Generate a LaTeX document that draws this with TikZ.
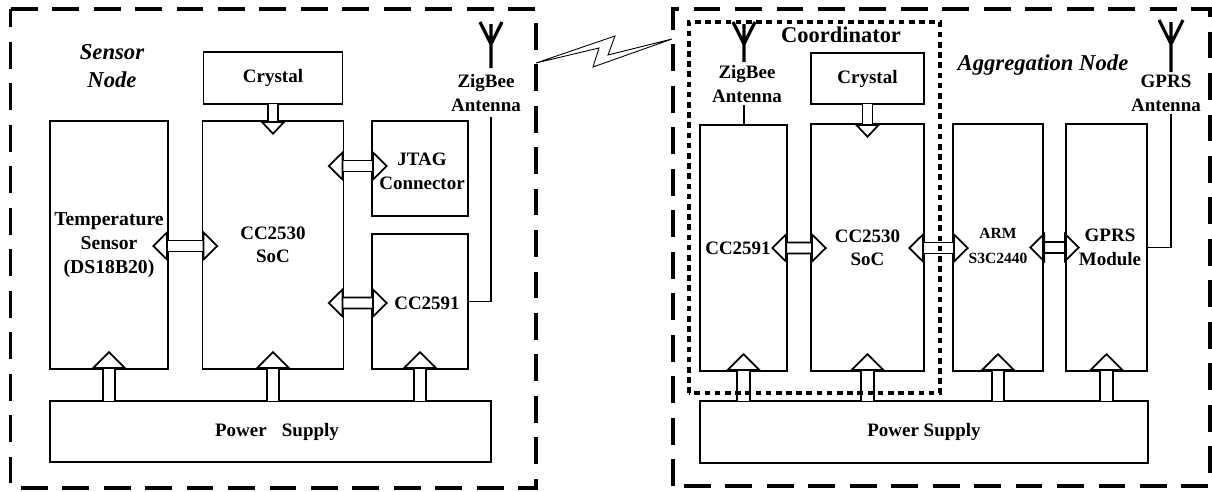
\documentclass[tikz,border=0pt]{standalone}
\usepackage{fontspec}
\setmainfont{Liberation Serif}
\usetikzlibrary{arrows.meta,calc}
\tikzset{
    blockbox/.style={draw, line width=1pt, outer sep=0pt, inner sep=0pt, align=center, font=\fontsize{10.8}{13.2}\selectfont\bfseries},
    textlabel/.style={inner sep=0pt, align=center, font=\fontsize{10.8}{13.6}\selectfont\bfseries},
    titlelabel/.style={inner sep=0pt, align=center, font=\fontsize{12.9}{15.8}\selectfont\bfseries\itshape},
    outerframe/.style={line width=2pt, dash pattern=on 15.3pt off 8.3pt},
    coordframe/.style={line width=1.8pt, dash pattern=on 3.2pt off 2.6pt},
    hbus/.style={double, line width=1pt, double distance between line centers=0.22cm, {Triangle[open, length=0.32cm, width=0.62cm]}-{Triangle[open, length=0.32cm, width=0.62cm]}},
    vbus/.style={double, line width=1pt, double distance between line centers=0.25cm, -{Triangle[open, length=0.36cm, width=0.72cm]}},
    xtalbus/.style={double, line width=1pt, double distance between line centers=0.2cm, -{Triangle[open, length=0.28cm, width=0.52cm]}},
    feedline/.style={line width=0.9pt},
    antennaline/.style={line width=1.8pt}
}
\begin{document}
\begin{tikzpicture}[x=0.02cm, y=-0.02cm]
        \useasboundingbox (0, 0) rectangle (1212, 491);

        % Sensor node blocks
        \node[blockbox, minimum width=2.78cm, minimum height=1.04cm] (crystalS) at (273, 78) {Crystal};
        \node[blockbox, minimum width=2.36cm, minimum height=4.96cm, font=\fontsize{11.2}{13.2}\selectfont\bfseries] (tempS) at (109, 245) {Temperature\\[0.6pt]Sensor\\[0.6pt](DS18B20)};
        \node[blockbox, minimum width=2.82cm, minimum height=4.96cm] (socS) at (273, 245) {CC2530\\SoC};
        \node[blockbox, minimum width=1.92cm, minimum height=1.90cm] (jtagS) at (420, 168.5) {};
        \node[textlabel] (jtagStext) at (422, 171) {JTAG\\Connector};
        \node[blockbox, minimum width=1.92cm, minimum height=2.70cm] (cc2591S) at (420, 301.5) {};
        \node[textlabel] (cc2591Stext) at (427, 303) {CC2591};
        \node[blockbox, minimum width=8.82cm, minimum height=1.22cm] (powerS) at (270.5, 431.5) {};
        \node[textlabel] (powerStext) at (277, 432) {Power\hspace{0.55em} Supply};

        % Sensor node labels
        \node[titlelabel] (titleS) at (112, 66) {Sensor\\Node};
        \node[textlabel] (zigbeeS) at (486, 93) {ZigBee\\Antenna};

        % Sensor node buses
        \draw[xtalbus] (crystalS.south) -- ($(socS.north)+(0, 14)$);
        \draw[hbus] ($(tempS.east)+(-16, 1)$) -- ($(socS.west)+(16, 1)$);
        \draw[hbus] ($(socS.east)+(-16, -79)$) -- ($(jtagS.west)+(16, -2.5)$);
        \draw[hbus] ($(socS.east)+(-16, 58)$) -- ($(cc2591S.west)+(16, 1.5)$);
        \draw[vbus] (powerS.north -| tempS.south) -- ($(tempS.south)+(0, -18)$);
        \draw[vbus] (powerS.north -| socS.south) -- ($(socS.south)+(0, -18)$);
        \draw[vbus] (powerS.north -| cc2591S.south) -- ($(cc2591S.south)+(0, -18)$);

        % Sensor node antenna
        \coordinate (feedS) at (491, 117);
        \draw[antennaline] (480, 22) -- (491, 44) -- (502, 22) (491, 24) -- (491, 68);
        \draw[feedline] (cc2591S.east) -| (feedS);

        % Aggregation node blocks
        \node[blockbox, minimum width=2.26cm, minimum height=1.02cm] (crystalC) at (867.5, 78.5) {Crystal};
        \node[blockbox, minimum width=1.74cm, minimum height=4.92cm] (cc2591C) at (743.5, 248) {};
        \node[textlabel] (cc2591Ctext) at (738, 248) {CC2591};
        \node[blockbox, minimum width=2.26cm, minimum height=4.94cm] (socC) at (867.5, 247.5) {CC2530\\SoC};
        \node[blockbox, minimum width=1.80cm, minimum height=4.94cm] (armA) at (998, 247.5) {};
        \node[textlabel, font=\fontsize{8.85}{14.6}\selectfont\bfseries] (armAtext) at (998, 246) {ARM\\S3C2440};
        \node[blockbox, minimum width=1.62cm, minimum height=4.94cm] (gprsA) at (1106.5, 247.5) {};
        \node[textlabel] (gprsAtext) at (1110, 247) {GPRS\\Module};
        \node[blockbox, minimum width=8.96cm, minimum height=1.24cm] (powerA) at (924, 432) {Power Supply};

        % Aggregation node labels
        \node[textlabel, font=\fontsize{12.8}{15}\selectfont\bfseries] (coordC) at (841, 35) {Coordinator};
        \node[titlelabel] (titleA) at (1043, 65) {Aggregation Node};
        \node[textlabel] (zigbeeC) at (747, 84) {ZigBee\\Antenna};
        \node[textlabel] (antennaA) at (1166, 93.5) {GPRS\\Antenna};

        % Aggregation node buses
        \draw[xtalbus] (crystalC.south) -- ($(socC.north)+(0, 14)$);
        \draw[hbus] ($(cc2591C.east)+(-16, 0)$) -- ($(socC.west)+(16, 0.5)$);
        \draw[hbus] ($(socC.east)+(-16, 0.5)$) -- ($(armA.west)+(16, 0.5)$);
        \draw[hbus] ($(armA.east)+(-14, 0)$) -- ($(gprsA.west)+(14, 0)$);
        \draw[vbus] (powerA.north -| cc2591C.south) -- ($(cc2591C.south)+(0, -18)$);
        \draw[vbus] (powerA.north -| socC.south) -- ($(socC.south)+(0, -18)$);
        \draw[vbus] (powerA.north -| armA.south) -- ($(armA.south)+(0, -18)$);
        \draw[vbus] (powerA.north -| gprsA.south) -- ($(gprsA.south)+(0, -18)$);

        % Aggregation node antennas
        \coordinate (feedC) at (744, 105);
        \coordinate (feedA) at (1171, 114);
        \draw[antennaline] (733, 22) -- (744, 44) -- (755, 22) (744, 24) -- (744, 62);
        \draw[antennaline] (1159, 20) -- (1171, 44) -- (1183, 20) (1171, 22) -- (1171, 72);
        \draw[feedline] (feedC) -- (feedC |- cc2591C.north);
        \draw[feedline] (gprsA.east) -| (feedA);

        % Dashed frames
        \draw[outerframe] (10.7, 9) -- (536, 9) -- (536, 488) -- (10.7, 488) -- cycle;
        \draw[outerframe] (673, 486) -- (673, 9) -- (1210, 9) -- (1210, 486) -- cycle;
        \draw[coordframe] (689, 393) -- (689, 22) -- (940, 22) -- (940, 393) -- cycle;

        % Radio link
        \draw[line width=0.5pt] (536, 63) -- (615, 36) -- (608, 55) -- (672, 39) -- (593, 67) -- (599, 48) -- cycle;
    \end{tikzpicture}
\end{document}
